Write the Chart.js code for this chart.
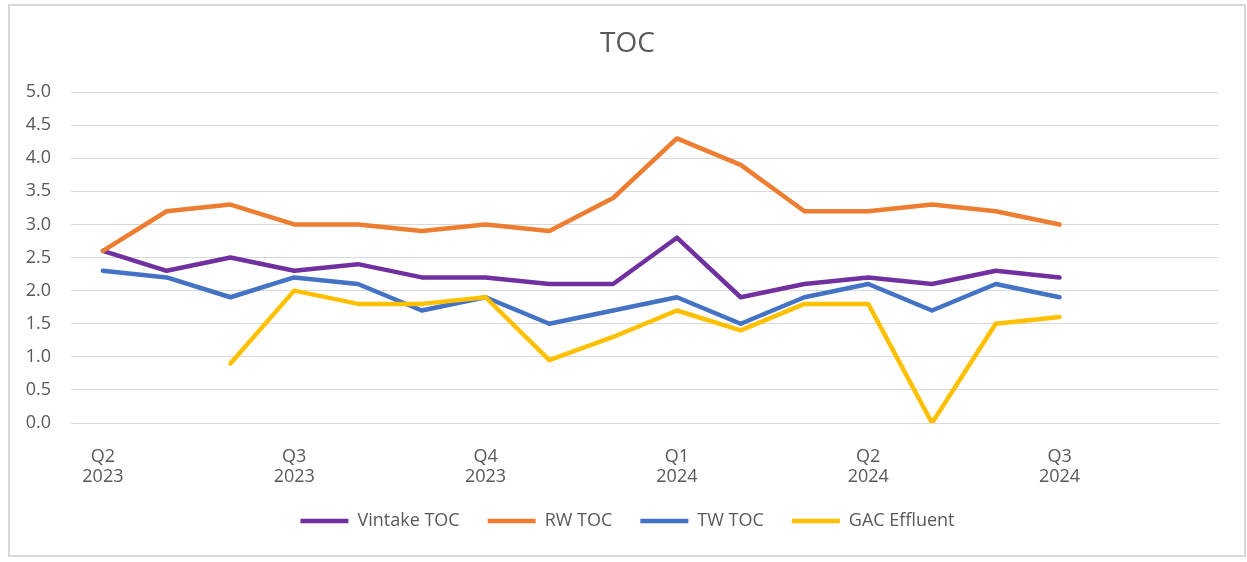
<!DOCTYPE html>
<html>
<head>
<meta charset="utf-8">
<script src="https://cdn.jsdelivr.net/npm/chart.js@4"></script>
<style>
  html, body { margin: 0; padding: 0; background: #fff; }
  #wrap { width: 1247px; height: 562px; }
</style>
</head>
<body>
<div id="wrap"><canvas id="tocChart" width="1247" height="562"></canvas></div>
<script>
var quarters = [
    ["Q2", "2023"], "", "", ["Q3", "2023"], "", "", ["Q4", "2023"], "", "",
    ["Q1", "2024"], "", "", ["Q2", "2024"], "", "", ["Q3", "2024"], "", ""
]

var vintakeToc = [2.6, 2.3, 2.5, 2.3, 2.4, 2.2, 2.2, 2.1, 2.1, 2.8, 1.9, 2.1, 2.2, 2.1, 2.3, 2.2]
var rwToc = [2.6, 3.2, 3.3, 3.0, 3.0, 2.9, 3.0, 2.9, 3.4, 4.3, 3.9, 3.2, 3.2, 3.3, 3.2, 3.0]
var twToc = [2.3, 2.2, 1.9, 2.2, 2.1, 1.7, 1.9, 1.5, 1.7, 1.9, 1.5, 1.9, 2.1, 1.7, 2.1, 1.9]
var gacEffluent = [null, null, 0.9, 2.0, 1.8, 1.8, 1.9, 0.95, 1.3, 1.7, 1.4, 1.8, 1.8, 0, 1.5, 1.6]

var textColor = "#595959"
var gridColor = "#D9D9D9"
var fontFamily = "'Open Sans', sans-serif"

// light grey frame around the whole chart, like the Excel chart area
var frame = {
    id: "frame",
    beforeDraw: function (chart) {
        var ctx = chart.ctx
        ctx.save()
        ctx.fillStyle = "#fff"
        ctx.fillRect(0, 0, chart.width, chart.height)
        ctx.strokeStyle = gridColor
        ctx.lineWidth = 2
        ctx.strokeRect(9, 5, 1236, 551)
        ctx.restore()
    }
}

function series(label, data, color, order) {
    return {
        label: label,
        data: data,
        borderColor: color,
        backgroundColor: color,
        borderWidth: 4.5,
        borderCapStyle: "round",
        borderJoinStyle: "round",
        pointRadius: 0,
        pointHoverRadius: 0,
        tension: 0,
        order: order
    }
}

var getTocChart = document.getElementById("tocChart")

var tocChart = new Chart(getTocChart, {
    type: "line",
    data: {
        labels: quarters,
        datasets: [
            series("Vintake TOC", vintakeToc, "#7030A0", 4),
            series("RW TOC", rwToc, "#ED7D31", 3),
            series("TW TOC", twToc, "#4472C4", 2),
            series("GAC Effluent", gacEffluent, "#FFC000", 1)
        ]
    },
    options: {
        responsive: false,
        animation: false,
        layout: {
            padding: { top: 0, left: 8, right: 0, bottom: 22 }
        },
        plugins: {
            title: {
                display: true,
                text: "TOC",
                color: textColor,
                font: { family: fontFamily, size: 28, weight: "normal", lineHeight: 1.2 },
                padding: { top: 27, bottom: 31.5 }
            },
            legend: {
                position: "bottom",
                labels: {
                    color: textColor,
                    font: { family: fontFamily, size: 18 },
                    usePointStyle: true,
                    pointStyle: "line",
                    pointStyleWidth: 48,
                    padding: 28,
                    sort: function (a, b) { return a.datasetIndex - b.datasetIndex }
                }
            },
            tooltip: { enabled: false }
        },
        scales: {
            x: {
                offset: true,
                grid: { display: false, drawTicks: false },
                border: { display: true, color: gridColor, width: 1 },
                ticks: {
                    autoSkip: false,
                    maxRotation: 0,
                    minRotation: 0,
                    padding: 24,
                    color: textColor,
                    font: { family: fontFamily, size: 18, lineHeight: 1.1 }
                },
                afterFit: function (scale) { scale.height = 61 }
            },
            y: {
                min: 0,
                max: 5,
                grid: { color: gridColor, lineWidth: 1, drawTicks: false },
                border: { display: false },
                ticks: {
                    stepSize: 0.5,
                    padding: 20,
                    color: textColor,
                    font: { family: fontFamily, size: 18 },
                    callback: function (v) { return v.toFixed(1) }
                },
                afterFit: function (scale) { scale.width = 63 }
            },
            // empty right-hand axis, only keeps the white margin right of the plot
            yRight: {
                position: "right",
                min: 0,
                max: 5,
                grid: { display: false, drawTicks: false },
                border: { display: false },
                ticks: { display: false },
                afterFit: function (scale) { scale.width = 28 }
            }
        }
    },
    plugins: [frame]
})
</script>
</body>
</html>
